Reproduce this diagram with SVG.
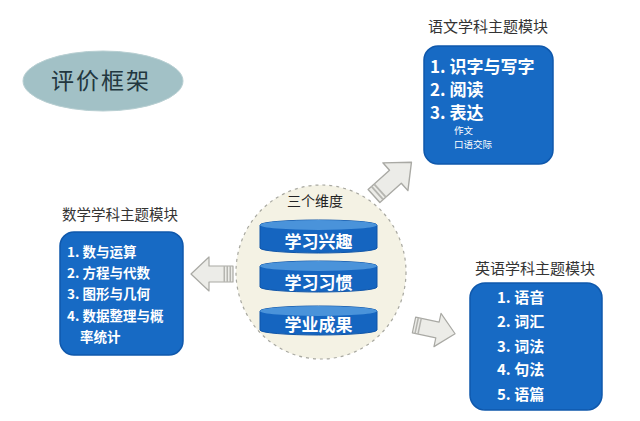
<svg xmlns="http://www.w3.org/2000/svg" width="640" height="421" viewBox="0 0 640 421">
<defs>
<style>
text{font-family:"Noto Sans CJK SC","Noto Sans",sans-serif;}
.box{fill:#176ac4;stroke:#0f58ac;stroke-width:1.5;}
.item{fill:#ffffff;font-weight:bold;}
.title{fill:#333333;}
.cyl{fill:#1565c0;stroke:#0f55a8;stroke-width:1;}
.cyltop{fill:#4a93da;}
.cyltext{fill:#ffffff;font-weight:bold;font-size:17px;text-anchor:middle;}
.arrow{fill:#ecece8;stroke:#a9a9a4;stroke-width:1.2;stroke-linejoin:round;}
.stripe{fill:#b5b5b0;}
</style>
<polygon id="arr" points="0,-8 24,-8 24,-17 42,0 24,17 24,8 0,8"/>
</defs>
<rect width="640" height="421" fill="#ffffff"/>

<g id="title-node">
<ellipse cx="103" cy="81" rx="80" ry="30" fill="#a2c1c6" stroke="#b8cfd2" stroke-width="1"/>
<text x="101" y="89" font-size="23" fill="#22373f" text-anchor="middle" letter-spacing="2">评价框架</text>
</g>

<g id="dimensions">
<ellipse cx="321" cy="272" rx="85" ry="87" fill="#f4f2e4" stroke="#a8a8a0" stroke-width="1.2" stroke-dasharray="3,4"/>
<text x="315" y="206" font-size="14" fill="#222222" text-anchor="middle">三个维度</text>
<g id="cyl1">
<path class="cyl" d="M260,225 A58.5,5 0 0 1 377,225 L377,248 A58.5,5 0 0 1 260,248 Z"/>
<ellipse class="cyltop" cx="318.5" cy="225" rx="58.5" ry="5"/>
<text class="cyltext" x="318.5" y="248">学习兴趣</text>
</g>
<g id="cyl2">
<path class="cyl" d="M260,266 A58.5,5 0 0 1 377,266 L377,287 A58.5,5 0 0 1 260,287 Z"/>
<ellipse class="cyltop" cx="318.5" cy="266" rx="58.5" ry="5"/>
<text class="cyltext" x="318.5" y="289">学习习惯</text>
</g>
<g id="cyl3">
<path class="cyl" d="M260,311 A58.5,5 0 0 1 377,311 L377,330 A58.5,5 0 0 1 260,330 Z"/>
<ellipse class="cyltop" cx="318.5" cy="311" rx="58.5" ry="5"/>
<text class="cyltext" x="318.5" y="331">学业成果</text>
</g>
</g>

<g id="chinese">
<text class="title" x="488" y="32" font-size="15" text-anchor="middle">语文学科主题模块</text>
<rect class="box" x="424" y="46" width="129" height="118" rx="14"/>
<text class="item" x="430" y="73" font-size="17">1. 识字与写字</text>
<text class="item" x="430" y="96" font-size="17">2. 阅读</text>
<text class="item" x="430" y="119" font-size="17">3. 表达</text>
<text x="454" y="134" font-size="9.5" fill="#ffffff">作文</text>
<text x="454" y="148" font-size="9.5" fill="#ffffff">口语交际</text>
</g>

<g id="math">
<text class="title" x="120" y="220" font-size="14.5" text-anchor="middle">数学学科主题模块</text>
<rect class="box" x="60" y="232" width="123" height="123" rx="14"/>
<text class="item" x="67" y="257" font-size="13.5">1. 数与运算</text>
<text class="item" x="67" y="278" font-size="13.5">2. 方程与代数</text>
<text class="item" x="67" y="299" font-size="13.5">3. 图形与几何</text>
<text class="item" x="67" y="321" font-size="13.5">4. 数据整理与概</text>
<text class="item" x="80" y="342" font-size="13.5">率统计</text>
</g>

<g id="english">
<text class="title" x="535" y="274" font-size="15" text-anchor="middle">英语学科主题模块</text>
<rect class="box" x="470" y="283" width="132" height="127" rx="15"/>
<text class="item" x="497" y="303" font-size="15">1. 语音</text>
<text class="item" x="497" y="327" font-size="15">2. 词汇</text>
<text class="item" x="497" y="352" font-size="15">3. 词法</text>
<text class="item" x="497" y="375" font-size="15">4. 句法</text>
<text class="item" x="497" y="400" font-size="15">5. 语篇</text>
</g>

<g id="connectors">
<g transform="translate(374,196) rotate(-42) scale(1.2,1.1)">
<use href="#arr" class="arrow"/>
<rect class="stripe" x="3" y="-8" width="1.5" height="16"/>
<rect class="stripe" x="6" y="-8" width="1.5" height="16"/>
</g>
<g transform="translate(233,274) rotate(180)">
<use href="#arr" class="arrow"/>
<rect class="stripe" x="2" y="-8" width="1.5" height="16"/>
<rect class="stripe" x="5" y="-8" width="1.5" height="16"/>
<rect class="stripe" x="8" y="-8" width="1.5" height="16"/>
</g>
<g transform="translate(414,325) rotate(12)">
<use href="#arr" class="arrow"/>
<rect class="stripe" x="2" y="-8" width="1.5" height="16"/>
<rect class="stripe" x="5" y="-8" width="1.5" height="16"/>
</g>
</g>
</svg>
